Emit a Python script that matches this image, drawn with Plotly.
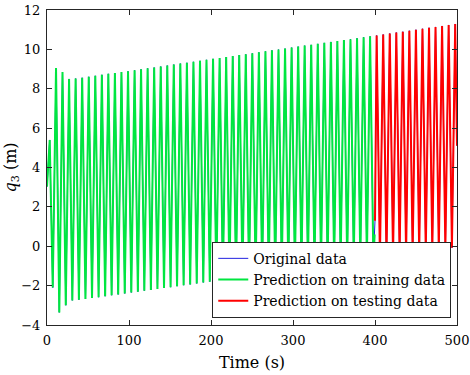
import plotly.graph_objects as go

# Extrema of the q3 signal (time in s, value in m)
t_ext = [0.0, 3.3, 7.0, 11.0, 15.0, 18.9, 22.9, 26.9, 30.9, 34.9, 38.9, 42.9, 46.9, 50.9,
         54.9, 58.9, 62.9, 66.9, 70.9, 74.8, 78.8, 82.8, 86.8, 90.8, 94.8, 98.8, 102.8, 106.8,
         110.8, 114.7, 118.7, 122.7, 126.7, 130.7, 134.7, 138.7, 142.7, 146.7, 150.7, 154.6,
         158.6, 162.6, 166.6, 170.6, 174.6, 178.6, 182.6, 186.6, 190.6, 194.5, 198.5, 202.5,
         206.5, 210.5, 214.5, 218.5, 222.5, 226.5, 230.5, 234.4, 238.4, 242.4, 246.4, 250.4,
         254.4, 258.4, 262.4, 266.4, 270.4, 274.3, 278.3, 282.3, 286.3, 290.3, 294.3, 298.3,
         302.3, 306.3, 310.3, 314.2, 318.2, 322.2, 326.2, 330.2, 334.2, 338.2, 342.2, 346.2,
         350.2, 354.1, 358.1, 362.1, 366.1, 370.1, 374.1, 378.1, 382.1, 386.1, 390.1, 394.0,
         398.0, 399.6]
q_ext = [3.03, 5.40, -2.10, 9.05, -3.36, 8.85, -3.00, 8.50, -2.75, 8.52, -2.72, 8.56, -2.68, 8.61,
         -2.63, 8.66, -2.59, 8.71, -2.54, 8.76, -2.49, 8.80, -2.45, 8.85, -2.40, 8.89, -2.35, 8.94,
         -2.31, 8.99, -2.26, 9.04, -2.22, 9.08, -2.17, 9.13, -2.12, 9.18, -2.08, 9.23,
         -2.03, 9.28, -1.98, 9.32, -1.94, 9.37, -1.89, 9.42, -1.84, 9.47, -1.80, 9.52,
         -1.75, 9.56, -1.71, 9.61, -1.66, 9.66, -1.61, 9.71, -1.57, 9.75, -1.52, 9.80,
         -1.47, 9.85, -1.43, 9.90, -1.38, 9.95, -1.34, 9.99, -1.29, 10.04, -1.24, 10.09,
         -1.20, 10.14, -1.15, 10.19, -1.10, 10.23, -1.06, 10.28, -1.01, 10.33, -0.97, 10.38,
         -0.92, 10.42, -0.87, 10.47, -0.83, 10.52, -0.78, 10.57, -0.73, 10.62, -0.69, 10.66,
         -0.64, 0.60]

t_test = [400.0, 402.0, 406.0, 410.0, 414.0, 418.0, 422.0, 426.0, 430.0, 433.9, 437.9, 441.9,
          445.9, 449.9, 453.9, 457.9, 461.9, 465.9, 469.9, 473.8, 477.8, 481.8, 485.8, 489.8,
          493.8, 497.8, 500.0]
q_test = [1.30, 10.71, -0.60, 10.76, -0.55, 10.81, -0.50, 10.86, -0.46, 10.90, -0.41, 10.95,
          -0.36, 11.00, -0.32, 11.05, -0.27, 11.10, -0.22, 11.14, -0.18, 11.19, -0.13, 11.24,
          -0.08, 11.29, 5.10]

t_orig = t_ext + t_test
q_orig = q_ext + q_test

x_ticks = [0, 100, 200, 300, 400, 500]
y_ticks = [-4, -2, 0, 2, 4, 6, 8, 10, 12]

FONT = "DejaVu Serif"
AX = "#262626"

fig = go.Figure()
fig.add_trace(go.Scatter(x=t_orig, y=q_orig, mode="lines", name="Original data",
                         line=dict(color="#2020e0", width=1)))
fig.add_trace(go.Scatter(x=t_ext, y=q_ext, mode="lines", name="Prediction on training data",
                         line=dict(color="#00e640", width=2)))
fig.add_trace(go.Scatter(x=t_test, y=q_test, mode="lines", name="Prediction on testing data",
                         line=dict(color="#ff0000", width=2)))

axis_common = dict(showline=True, linecolor=AX, linewidth=1, mirror="ticks",
                   ticks="inside", ticklen=5, tickcolor=AX, showgrid=False, zeroline=False,
                   automargin=False,
                   tickfont=dict(family=FONT, size=13, color="black"))

fig.update_layout(
    width=470, height=375,
    margin=dict(l=47, r=13, t=10, b=50),
    paper_bgcolor="white", plot_bgcolor="white",
    font=dict(family=FONT, size=14, color="black"),
    xaxis=dict(range=[0, 500], tickvals=x_ticks, ticklabelstandoff=3,
               title=dict(text="Time (s)", font=dict(family=FONT, size=16), standoff=10),
               **axis_common),
    yaxis=dict(range=[-4, 12], tickvals=y_ticks, ticklabelstandoff=3,
               title=dict(text="<i>q</i><sub>3</sub> (m)", font=dict(family=FONT, size=16), standoff=0),
               **axis_common),
    legend=dict(x=0.986, y=0.023, xanchor="right", yanchor="bottom",
                bgcolor="white", bordercolor=AX, borderwidth=1,
                font=dict(family=FONT, size=14, color="black"),
                tracegroupgap=0, itemwidth=30),
    showlegend=True,
)

fig.write_html("out.html", config={"displayModeBar": False},
               post_script="document.body.style.margin='0';document.body.style.overflow='hidden';")
